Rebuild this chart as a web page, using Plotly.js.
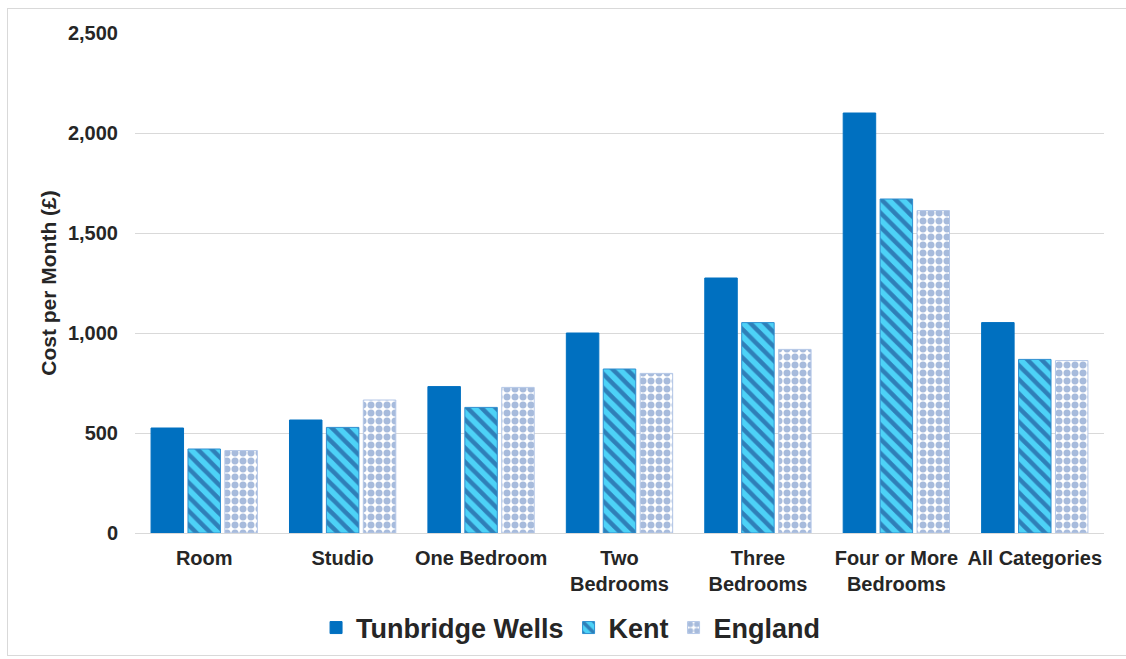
<!DOCTYPE html>
<html>
<head>
<meta charset="utf-8">
<script src="https://cdn.plot.ly/plotly-3.0.1.min.js"></script>
<style>
  html, body { margin: 0; padding: 0; background: #ffffff; }
  #frame { position: absolute; left: 7px; top: 8px; width: 1130px; height: 648px; border: 1px solid #d9d9d9; box-sizing: border-box; }
  #chart { position: absolute; left: 0; top: 0; width: 1126px; height: 659px; }
</style>
</head>
<body>
<div id="frame"></div>
<div id="chart"></div>
<script>
const categories = ["Room", "Studio", "One Bedroom", "Two<br>Bedrooms", "Three<br>Bedrooms", "Four or More<br>Bedrooms", "All Categories"];
const tunbridgeWells = [525, 565, 732, 1000, 1275, 2100, 1052];
const kent = [420, 528, 628, 820, 1052, 1670, 868];
const england = [412, 665, 728, 798, 918, 1612, 862];
const yTickValues = [0, 500, 1000, 1500, 2000, 2500];
const yTickLabels = ["0", "500", "1,000", "1,500", "2,000", "2,500"];

const FONT = "Liberation Sans, Arial, sans-serif";

const traces = [
  {
    type: "bar", name: "Tunbridge Wells", x: categories, y: tunbridgeWells,
    marker: { color: "#0070c0", line: { color: "#0070c0", width: 1 } }
  },
  {
    type: "bar", name: "Kent", x: categories, y: kent,
    marker: {
      color: "#4dd2f7",
      line: { color: "#2e8fd0", width: 1 },
      pattern: { shape: "\\", fgcolor: "#2f7fb8", bgcolor: "#4dd2f7", size: 10, solidity: 0.45, fillmode: "replace" }
    }
  },
  {
    type: "bar", name: "England", x: categories, y: england,
    marker: {
      color: "#ffffff",
      line: { color: "#b4c7e7", width: 1 },
      pattern: { shape: ".", fgcolor: "#a7bbdc", bgcolor: "#ffffff", size: 8, solidity: 0.6, fillmode: "replace" }
    }
  }
];

const layout = {
  width: 1126, height: 659,
  margin: { l: 135, r: 22, t: 33, b: 126, autoexpand: false },
  paper_bgcolor: "rgba(0,0,0,0)",
  plot_bgcolor: "rgba(0,0,0,0)",
  barmode: "group",
  bargap: 0.2,
  bargroupgap: 0.12,
  font: { family: FONT, color: "#262626" },
  showlegend: true,
  legend: {
    orientation: "h", x: 0.45, xanchor: "center", y: -0.19, yanchor: "middle",
    font: { family: FONT, size: 27, color: "#262626", weight: "bold" },
    itemwidth: 30, traceorder: "normal"
  },
  xaxis: {
    type: "category",
    tickfont: { family: FONT, size: 20, color: "#262626", weight: "bold" },
    showline: true, linecolor: "#d9d9d9", linewidth: 1,
    ticks: "", showgrid: false, tickangle: 0,
    ticklabelstandoff: 7
  },
  yaxis: {
    range: [0, 2500],
    tickvals: yTickValues, ticktext: yTickLabels,
    tickfont: { family: FONT, size: 20, color: "#262626", weight: "bold" },
    showgrid: true, gridcolor: "#d9d9d9", gridwidth: 1,
    zeroline: false, showline: false, ticks: "",
    ticklabelstandoff: 16,
    title: { text: "Cost per Month (£)", font: { family: FONT, size: 21, color: "#262626", weight: "bold" }, standoff: 5 }
  }
};

Plotly.newPlot("chart", traces, layout, { displayModeBar: false, staticPlot: true });
</script>
</body>
</html>
